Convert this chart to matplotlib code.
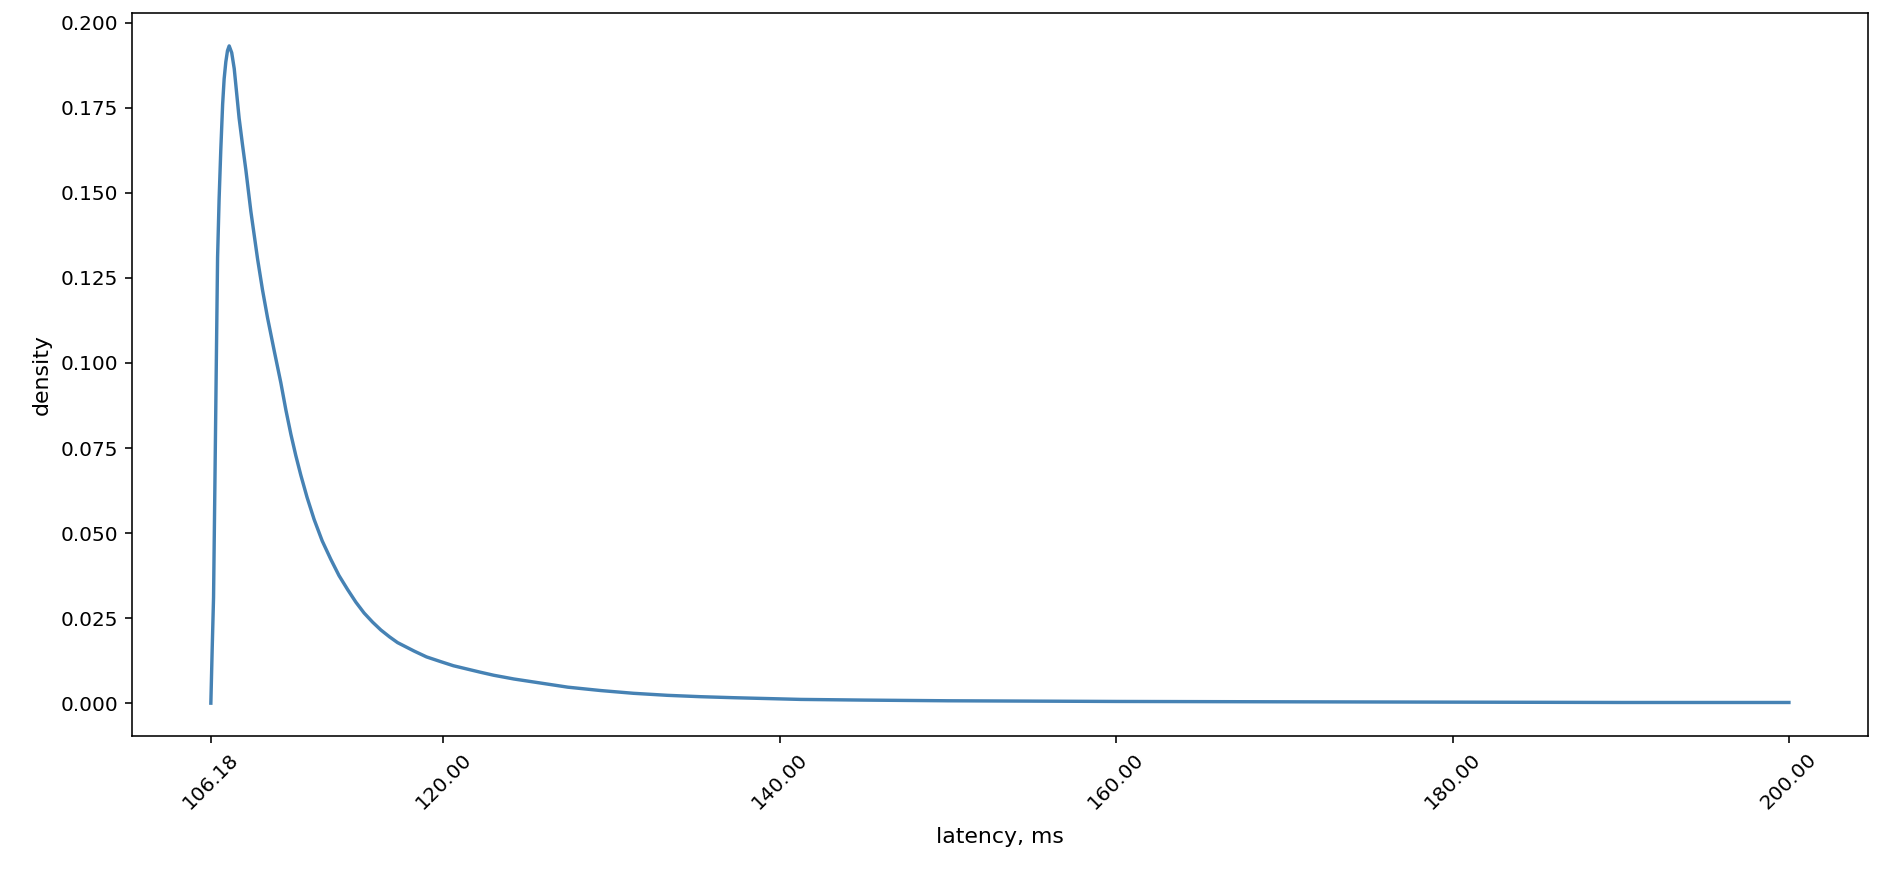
import matplotlib
matplotlib.use('Agg')
import matplotlib.pyplot as plt

# latency values (ms) and estimated density
latency = [106.18, 106.22, 106.26, 106.34, 106.42, 106.50, 106.58, 106.67, 106.77, 106.88,
           106.97, 107.07, 107.17, 107.27, 107.42, 107.57, 107.72, 107.86, 108.06, 108.26,
           108.56, 108.96, 109.25, 109.55, 109.95, 110.34, 110.64, 110.94, 111.23, 111.53,
           111.90, 112.32, 112.80, 113.31, 113.80, 114.31, 114.80, 115.29, 115.80, 116.29,
           116.80, 117.28, 118.27, 119.00, 119.85, 120.60, 121.44, 122.20, 123.00, 124.20,
           125.40, 127.40, 129.37, 131.30, 133.33, 135.30, 137.29, 141.26, 145.00, 150.00,
           160.00, 170.00, 180.00, 190.00, 200.00]
density = [0.0000, 0.0080, 0.0160, 0.0310, 0.0640, 0.0980, 0.1310, 0.1480, 0.1625, 0.1760,
           0.1835, 0.1885, 0.1918, 0.1932, 0.1912, 0.1865, 0.1790, 0.1720, 0.1642, 0.1568,
           0.1445, 0.1305, 0.1215, 0.1133, 0.1035, 0.0942, 0.0862, 0.0790, 0.0728, 0.0670,
           0.0605, 0.0540, 0.0477, 0.0423, 0.0375, 0.0334, 0.0297, 0.0265, 0.0238, 0.0215,
           0.0195, 0.0178, 0.0153, 0.0136, 0.0122, 0.0110, 0.0100, 0.0091, 0.0082, 0.0071,
           0.0062, 0.0047, 0.0037, 0.0029, 0.0023, 0.0019, 0.0016, 0.0011, 0.0009, 0.0007,
           0.0005, 0.0004, 0.0003, 0.0002, 0.0002]

xticks = [106.18, 120, 140, 160, 180, 200]

# Create Figure and Axes
figure = plt.figure(figsize=(1904 / 144, 870 / 144), dpi=144, facecolor='white')
axes0 = figure.add_axes([0.0693, 0.154, 0.9117, 0.831])

axes0.plot(latency, density, color='steelblue', linewidth=1.7)

# x-axis Settings
axes0.set_xticks(xticks)
axes0.set_xticklabels(['%.2f' % t for t in xticks], rotation=45)
axes0.set_xlabel('latency, ms', fontsize=11, labelpad=7)

# y-axis Settings
axes0.set_ylabel('density', fontsize=11)

figure.savefig('out.png', dpi=144)
